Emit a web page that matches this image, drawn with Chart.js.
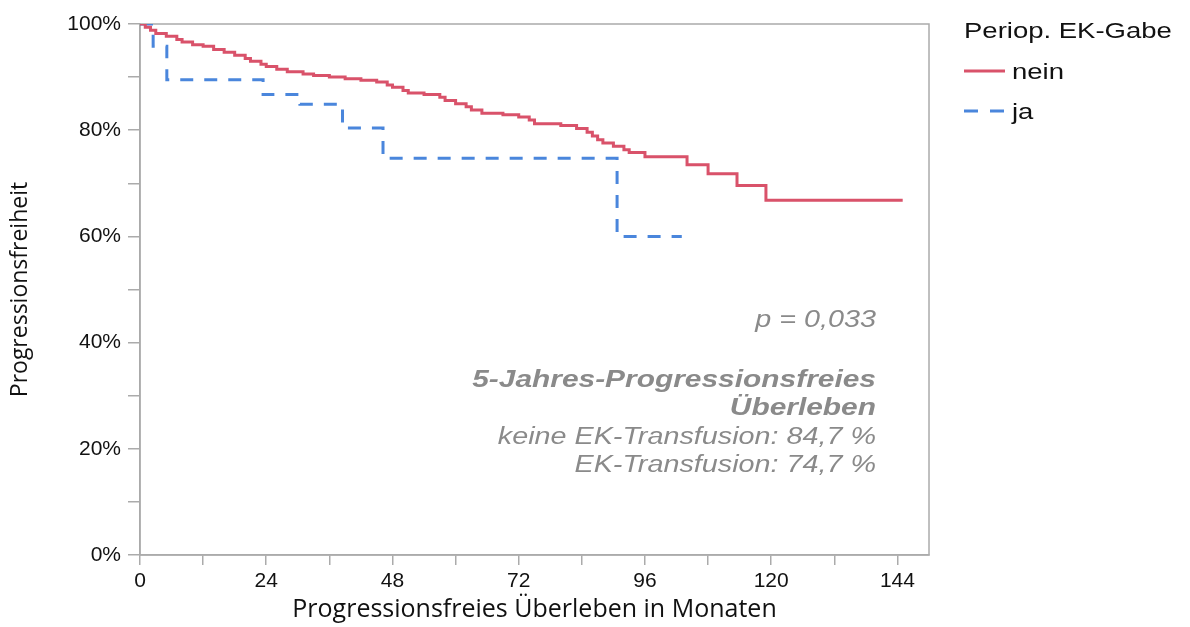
<!DOCTYPE html>
<html>
<head>
<meta charset="utf-8">
<script src="https://cdn.jsdelivr.net/npm/chart.js@4.4.1/dist/chart.umd.min.js"></script>
<style>
  html, body { margin: 0; padding: 0; background: #ffffff; }
  #wrap { width: 1190px; height: 627px; position: relative; }
</style>
</head>
<body>
<div id="wrap"><canvas id="c"></canvas></div>
<script>
// ---- data ----
const monthsNein = [0, 1, 2, 3, 5, 7, 8, 10, 12, 14, 16, 18, 20, 21, 23, 24, 26, 28, 31, 33, 36, 39, 42, 45, 47, 48, 50, 51, 54, 57, 58, 60, 62, 63, 65, 69, 72, 74, 75, 80, 83, 85, 86, 87, 88, 90, 92, 93, 96, 104, 108, 113.5, 119, 145];
const survNein   = [100, 99.4, 98.8, 98.2, 97.7, 97.1, 96.6, 96.1, 95.8, 95.2, 94.7, 94.1, 93.5, 93.0, 92.4, 92.0, 91.5, 91.0, 90.6, 90.3, 90.0, 89.7, 89.4, 89.1, 88.5, 88.1, 87.5, 87.0, 86.7, 86.2, 85.6, 85.0, 84.4, 83.8, 83.2, 82.9, 82.5, 81.9, 81.2, 80.9, 80.3, 79.6, 78.9, 78.2, 77.6, 77.0, 76.3, 75.8, 75.0, 73.5, 71.8, 69.6, 66.8, 66.8];
const monthsJa = [0, 2.5, 5.1, 23.4, 30.4, 38.5, 46.2, 90.7, 103];
const survJa   = [100, 95.8, 89.5, 86.7, 84.9, 80.4, 74.7, 60.0, 60.0];

const seriesNames = ['nein', 'ja'];
const legendTitle = 'Periop. EK-Gabe';
const xTickLabels = [0, 24, 48, 72, 96, 120, 144];
const yTickLabels = [0, 20, 40, 60, 80, 100];
const xAxisTitle = 'Progressionsfreies Überleben in Monaten';
const yAxisTitle = 'Progressionsfreiheit';
const annotationLines = [
  { text: 'p = 0,033', bold: false },
  { text: '5-Jahres-Progressionsfreies', bold: true },
  { text: 'Überleben', bold: true },
  { text: 'keine EK-Transfusion: 84,7 %', bold: false },
  { text: 'EK-Transfusion: 74,7 %', bold: false }
];

// ---- styling ----
const RED = '#d9526a';
const BLUE = '#4a86dc';
const AXIS = '#ababab';
const TXT = '#111111';
const SX = 1.25; // horizontal stretch of the reference's text

const toPts = (xs, ys) => xs.map((x, i) => ({ x: x, y: ys[i] }));

const framePlugin = {
  id: 'frame',
  beforeDatasetsDraw(chart) {
    const { ctx, chartArea: a } = chart;
    ctx.save();
    ctx.strokeStyle = AXIS;
    ctx.lineWidth = 1.5;
    ctx.strokeRect(a.left, a.top, a.right - a.left, a.bottom - a.top);
    ctx.restore();
  }
};

const annotationPlugin = {
  id: 'annot',
  afterDraw(chart) {
    const ctx = chart.ctx;
    const right = 876;
    const baselines = [327, 387, 415, 443.5, 472];
    ctx.save();
    ctx.fillStyle = '#8a8a8a';
    ctx.textAlign = 'right';
    ctx.textBaseline = 'alphabetic';
    annotationLines.forEach((ln, i) => {
      ctx.save();
      ctx.translate(right, baselines[i]);
      ctx.scale(ln.bold ? 1.3 : SX, 1);
      ctx.font = (ln.bold ? 'italic bold ' : 'italic ') + '23px "Liberation Sans", Arial, sans-serif';
      ctx.fillText(ln.text, 0, 0);
      ctx.restore();
    });
    ctx.restore();
  }
};

const legendPlugin = {
  id: 'kmLegend',
  afterDraw(chart) {
    const ctx = chart.ctx;
    const x0 = 964;
    ctx.save();
    ctx.fillStyle = TXT;
    ctx.textAlign = 'left';
    ctx.textBaseline = 'alphabetic';
    ctx.save();
    ctx.translate(x0, 38);
    ctx.scale(1.25, 1);
    ctx.font = '22px "Liberation Sans", Arial, sans-serif';
    ctx.fillText(legendTitle, 0, 0);
    ctx.restore();
    const rows = [71, 111];
    chart.data.datasets.forEach((ds, i) => {
      const y = rows[i];
      ctx.save();
      ctx.strokeStyle = ds.borderColor;
      ctx.lineWidth = 3;
      ctx.setLineDash(ds.borderDash && ds.borderDash.length ? [14, 12] : []);
      ctx.beginPath();
      ctx.moveTo(x0, y);
      ctx.lineTo(x0 + 41, y);
      ctx.stroke();
      ctx.restore();
      ctx.save();
      ctx.translate(x0 + 48, y + 8);
      ctx.scale(1.25, 1);
      ctx.font = '22px "Liberation Sans", Arial, sans-serif';
      ctx.fillStyle = TXT;
      ctx.fillText(ds.label, 0, 0);
      ctx.restore();
    });
    ctx.restore();
  }
};

new Chart(document.getElementById('c'), {
  type: 'line',
  data: {
    datasets: [
      {
        label: seriesNames[0],
        data: toPts(monthsNein, survNein),
        borderColor: RED,
        borderWidth: 3,
        stepped: 'before',
        pointRadius: 0,
        fill: false,
        borderCapStyle: 'butt'
      },
      {
        label: seriesNames[1],
        data: toPts(monthsJa, survJa),
        borderColor: BLUE,
        borderWidth: 3,
        borderDash: [13, 11],
        stepped: 'before',
        pointRadius: 0,
        fill: false,
        borderCapStyle: 'butt'
      }
    ]
  },
  options: {
    responsive: true,
    maintainAspectRatio: false,
    animation: false,
    layout: { padding: { left: 0, right: 261, top: 24, bottom: 0 } },
    plugins: { legend: { display: false }, tooltip: { enabled: false } },
    scales: {
      x: {
        type: 'linear',
        min: 0,
        max: 150,
        afterFit(s) { s.height = 72; },
        border: { display: true, color: AXIS, width: 1.5 },
        grid: { display: true, drawOnChartArea: false, drawTicks: true, tickLength: 10, color: AXIS, lineWidth: 1.5 },
        ticks: {
          stepSize: 12,
          includeBounds: false,
          autoSkip: false,
          maxRotation: 0,
          padding: 4,
          color: TXT,
          font: { family: '"Liberation Sans", Arial, sans-serif', size: 21 },
          callback: (v) => xTickLabels.includes(v) ? String(v) : ''
        },
        title: {
          display: true,
          text: xAxisTitle,
          color: TXT,
          font: { family: '"Open Sans", sans-serif', size: 25 },
          padding: { top: 0, bottom: 2 }
        }
      },
      y: {
        type: 'linear',
        min: 0,
        max: 100,
        afterFit(s) { s.width = 140; },
        border: { display: true, color: AXIS, width: 1.5 },
        grid: { display: true, drawOnChartArea: false, drawTicks: true, tickLength: 12, color: AXIS, lineWidth: 1.5 },
        ticks: {
          stepSize: 10,
          autoSkip: false,
          padding: 7,
          color: TXT,
          font: { family: '"Liberation Sans", Arial, sans-serif', size: 21 },
          callback: (v) => yTickLabels.includes(v) ? v + '%' : ''
        },
        title: {
          display: true,
          text: yAxisTitle,
          color: TXT,
          font: { family: '"Open Sans", sans-serif', size: 23 },
          padding: { top: 7, bottom: 0 }
        }
      }
    }
  },
  plugins: [framePlugin, annotationPlugin, legendPlugin]
});
</script>
</body>
</html>
